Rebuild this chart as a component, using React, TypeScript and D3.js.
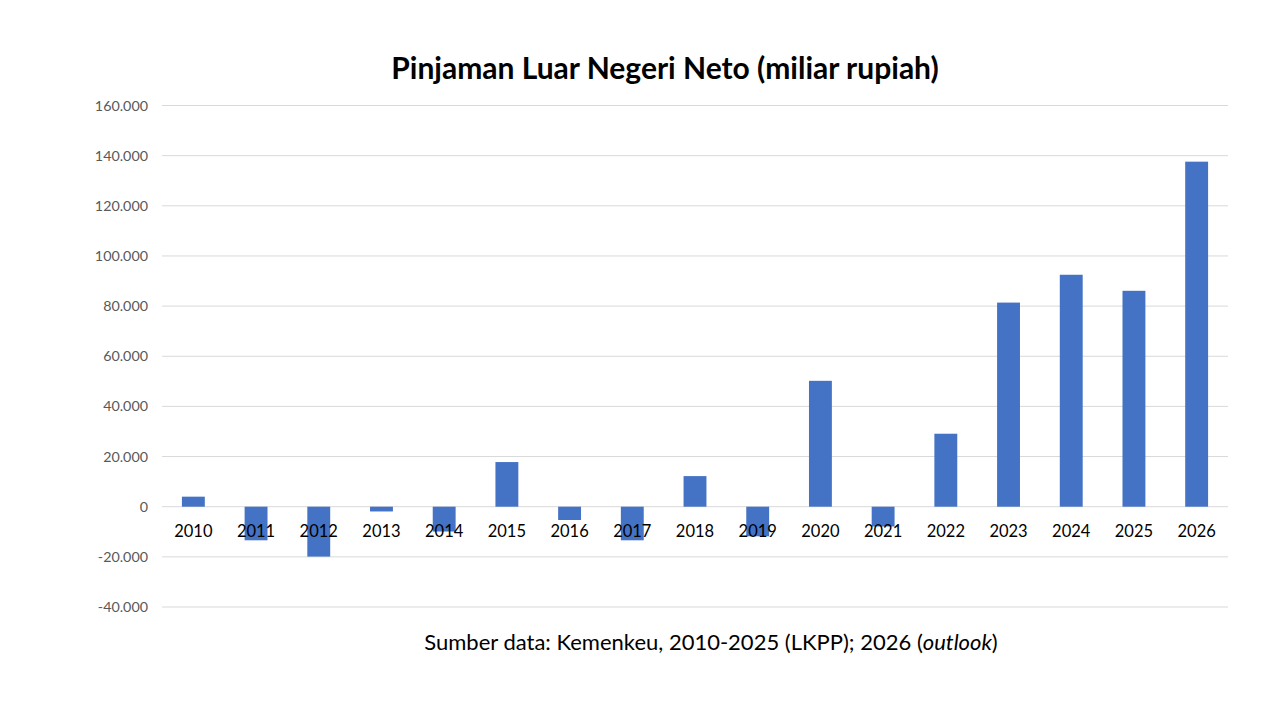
import React from "react";
import * as d3 from "d3";

// Net foreign borrowing, billion rupiah
const years = ["2010","2011","2012","2013","2014","2015","2016","2017","2018","2019","2020","2021","2022","2023","2024","2025","2026"];
const values = [4000,-13400,-19900,-1900,-9900,17800,-5300,-13400,12200,-11800,50200,-7900,29100,81400,92500,86100,137600];
const yTicks = [-40000,-20000,0,20000,40000,60000,80000,100000,120000,140000,160000];

const W = 1280, H = 720;
const plot = { left: 162, right: 1228, top: 105.5, bottom: 607 };

const fmt = (v: number) => {
  const s = d3.format(",")(Math.abs(v)).replace(/,/g, ".");
  return (v < 0 ? "-" : "") + s;
};

export default function App() {
  const x = d3.scaleBand<string>().domain(years).range([plot.left, plot.right]).paddingInner(0.635).paddingOuter(0.3175);
  const y = d3.scaleLinear().domain([-40000, 160000]).range([plot.bottom, plot.top]);
  const font = "Lato, 'Open Sans', sans-serif";
  return (
    <svg width={W} height={H} style={{ position: "absolute", left: 0, top: 0, background: "#fff" }} fontFamily={font}>
      <rect width={W} height={H} fill="#fff" />
      <text x={665} y={79} textAnchor="middle" fontSize={30} fontWeight={700} fill="#000">
        Pinjaman Luar Negeri Neto (miliar rupiah)
      </text>
      {yTicks.map((t) => (
        <g key={t}>
          <line x1={plot.left} x2={plot.right} y1={y(t)} y2={y(t)} stroke="#d9d9d9" strokeWidth={1} />
          <text x={148} y={y(t)} dy="0.35em" textAnchor="end" fontSize={14.3} fill="#595959">{fmt(t)}</text>
        </g>
      ))}
      {years.map((yr, i) => {
        const v = values[i];
        const y0 = y(0), y1 = y(v);
        return (
          <rect key={yr} x={x(yr)} width={x.bandwidth()} y={Math.min(y0, y1)} height={Math.abs(y1 - y0)} fill="#4472c4" />
        );
      })}
      {years.map((yr) => (
        <text key={"l" + yr} x={(x(yr) as number) + x.bandwidth() / 2} y={537} textAnchor="middle" fontSize={16.5} fill="#000">{yr}</text>
      ))}
      <text x={711} y={650} textAnchor="middle" fontSize={22} fill="#000">
        Sumber data: Kemenkeu, 2010-2025 (LKPP); 2026 (<tspan fontStyle="italic">outlook</tspan>)
      </text>
    </svg>
  );
}
